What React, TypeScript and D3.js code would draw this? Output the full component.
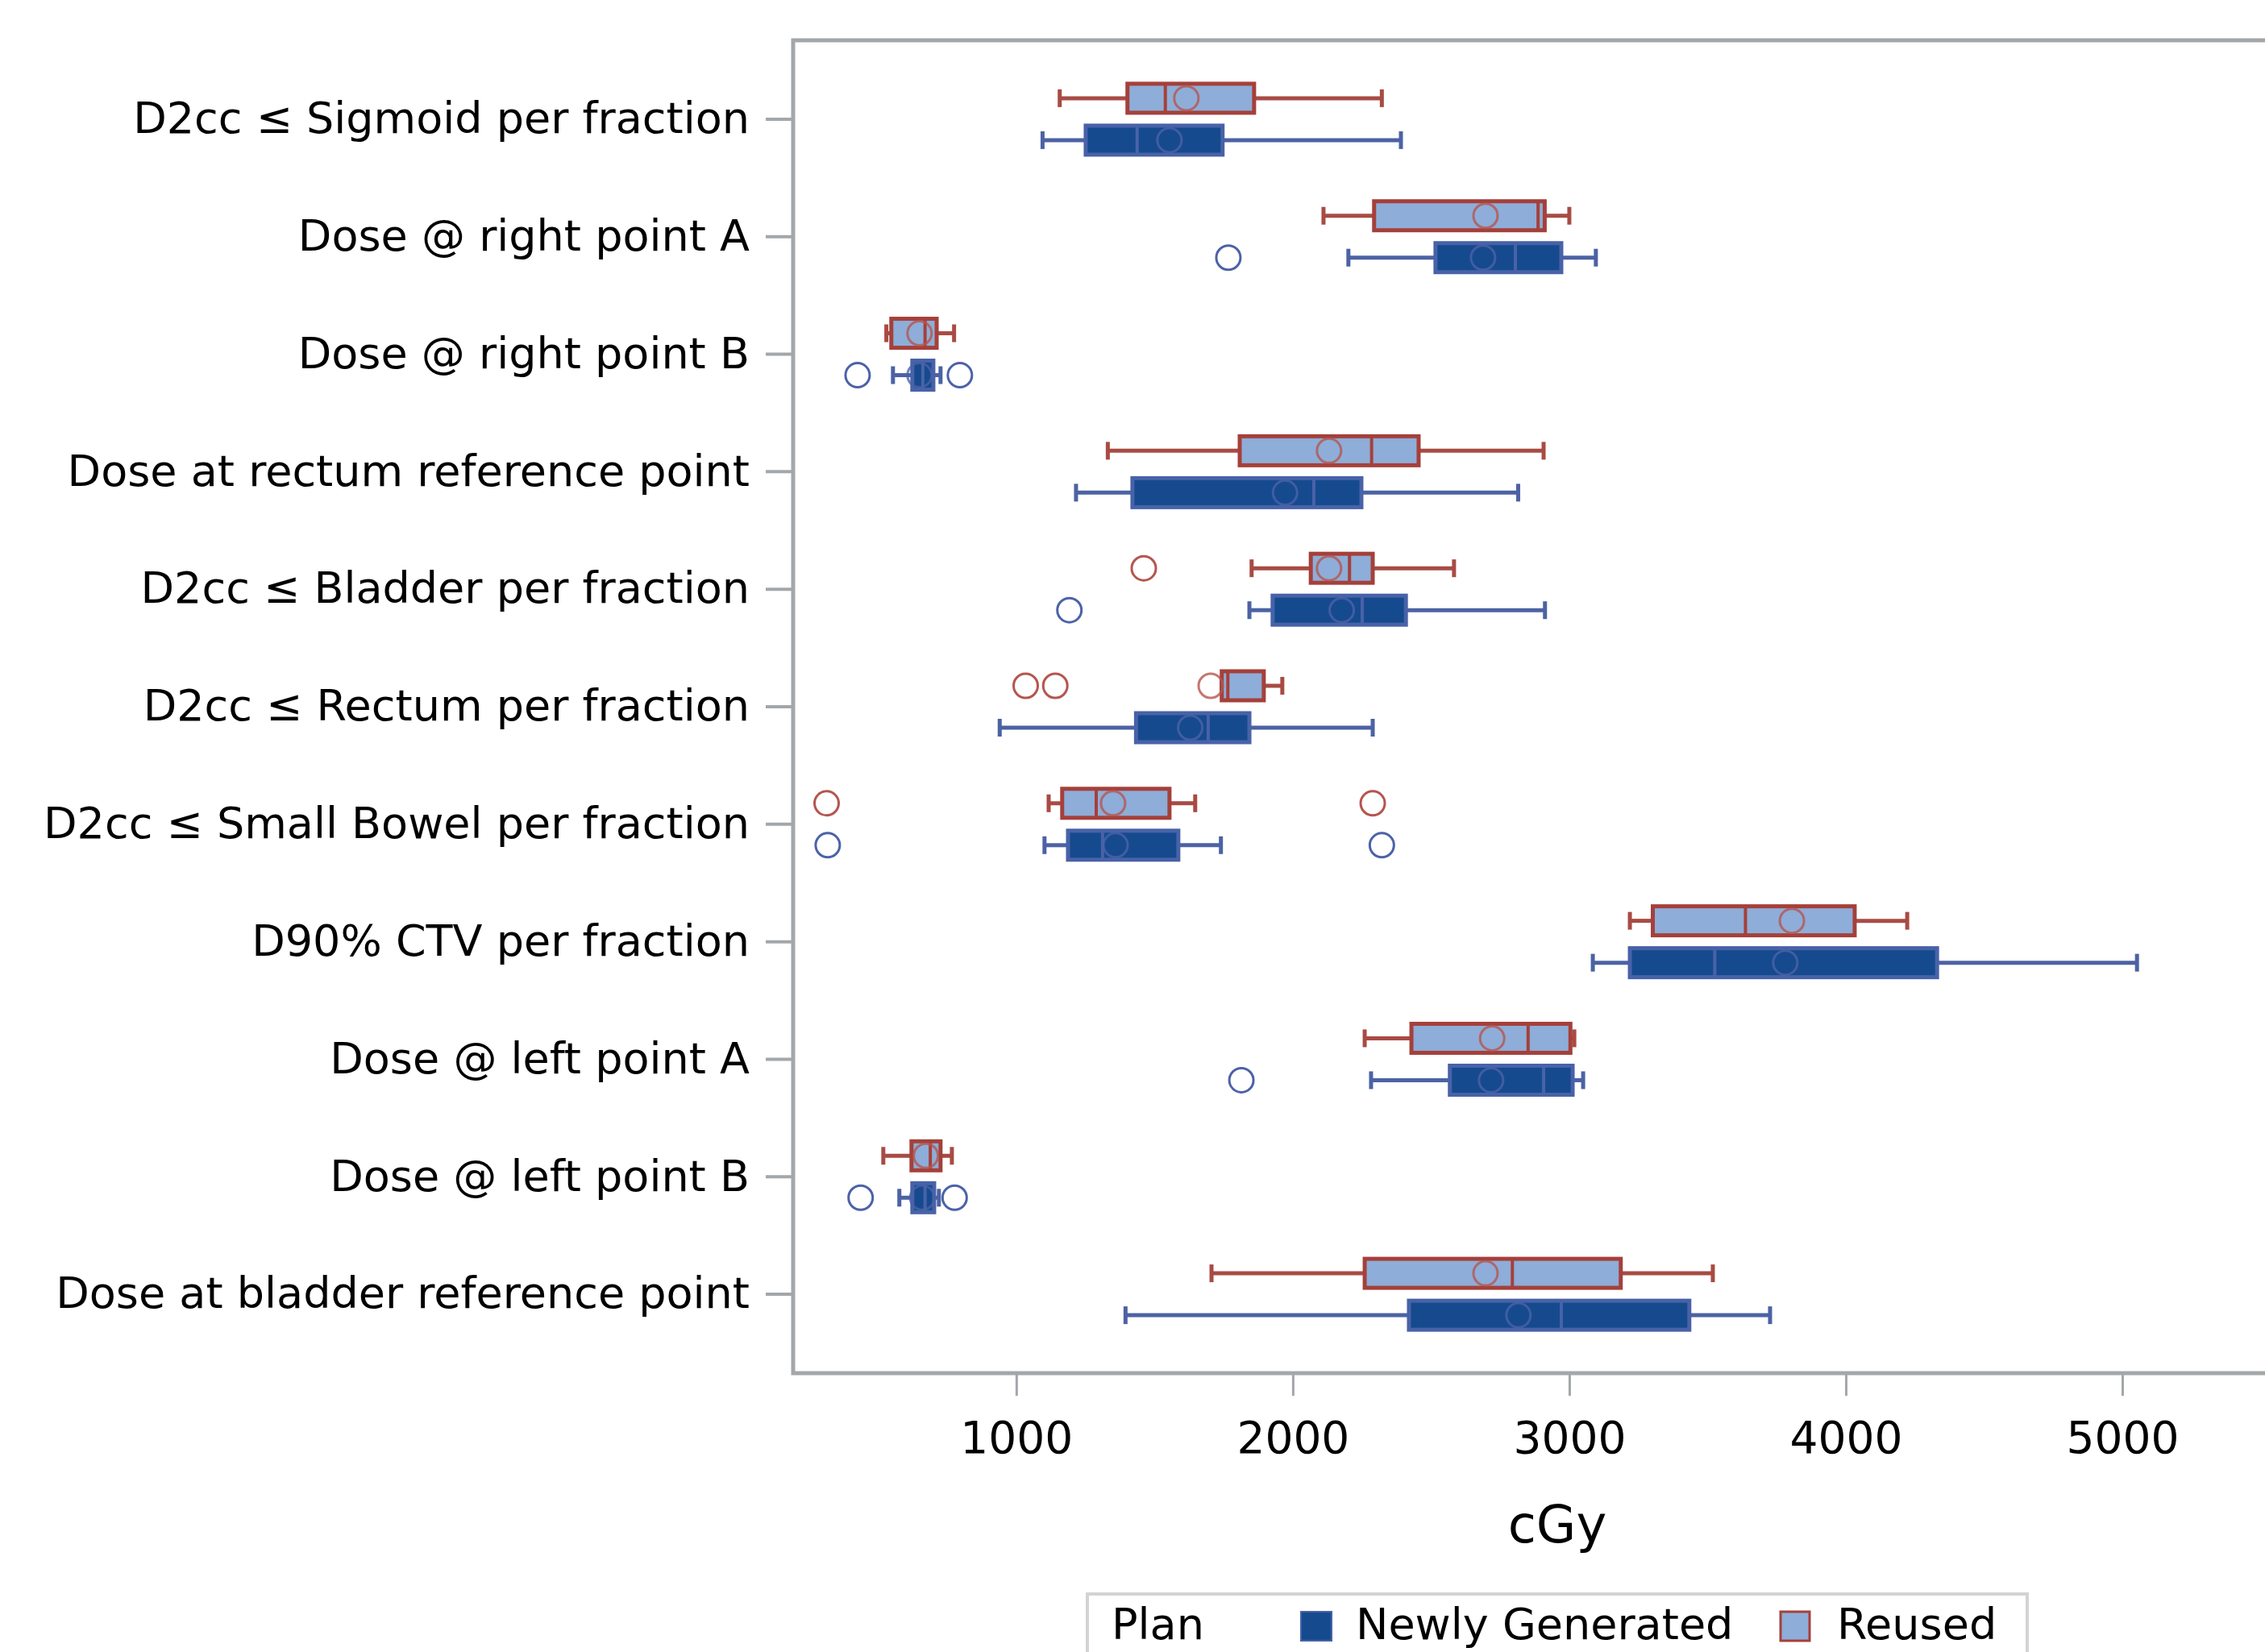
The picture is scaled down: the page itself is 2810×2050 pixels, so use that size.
import React, { useRef, useEffect } from "react";
import * as d3 from "d3";

const categories = [
  "D2cc ≤ Sigmoid per fraction",
  "Dose @ right point A",
  "Dose @ right point B",
  "Dose at rectum reference point",
  "D2cc ≤ Bladder per fraction",
  "D2cc ≤ Rectum per fraction",
  "D2cc ≤ Small Bowel per fraction",
  "D90% CTV per fraction",
  "Dose @ left point A",
  "Dose @ left point B",
  "Dose at bladder reference point",
];

const xTicks = [1000, 2000, 3000, 4000, 5000];

// Reused plans
const reusedMin = [1157, 2111, 530, 1331, 1851, 1743, 1117, 3219, 2260, 519, 1706];
const reusedQ1 = [1402, 2294, 548, 1808, 2065, 1743, 1166, 3302, 2429, 621, 2260];
const reusedMedian = [1539, 2887, 670, 2285, 2205, 1765, 1289, 3637, 2851, 689, 2794];
const reusedMean = [1615, 2697, 650, 2131, 2131, 1703, 1350, 3805, 2721, 673, 2697];
const reusedQ3 = [1860, 2911, 712, 2455, 2289, 1895, 1554, 4032, 3004, 726, 3186];
const reusedMax = [2322, 3000, 775, 2907, 2583, 1962, 1647, 4222, 3018, 767, 3519];
const reusedOutliers = [[], [], [], [], [1461], [1034, 1141], [314, 2289], [], [], [], []];

// Newly generated plans
const newMin = [1095, 2201, 554, 1216, 1843, 940, 1102, 3085, 2283, 577, 1395];
const newQ1 = [1251, 2516, 624, 1420, 1927, 1433, 1187, 3219, 2568, 624, 2420];
const newMedian = [1437, 2805, 662, 2076, 2251, 1694, 1312, 3526, 2907, 670, 2971];
const newMean = [1554, 2688, 650, 1972, 2177, 1629, 1359, 3781, 2717, 660, 2816];
const newQ3 = [1746, 2971, 700, 2248, 2409, 1843, 1586, 4330, 3012, 703, 3434];
const newMax = [2391, 3096, 726, 2815, 2912, 2289, 1740, 5053, 3050, 720, 3726];
const newOutliers = [[], [1767], [426, 796], [], [1192], [], [318, 2322], [], [1814], [437, 777], []];

const width = 2810;
const height = 2050;
const frame = { left: 984, top: 50, right: 2880, bottom: 1704 };
const font = "'DejaVu Sans', Verdana, sans-serif";

const series = [
  {
    name: "Reused",
    offset: -26,
    min: reusedMin, q1: reusedQ1, median: reusedMedian, mean: reusedMean,
    q3: reusedQ3, max: reusedMax, outliers: reusedOutliers,
    fill: "#8eadd8", stroke: "#a5403a", whisker: "#a84b44", marker: "#b5554f",
  },
  {
    name: "Newly Generated",
    offset: 26,
    min: newMin, q1: newQ1, median: newMedian, mean: newMean,
    q3: newQ3, max: newMax, outliers: newOutliers,
    fill: "#164a8e", stroke: "#4862a8", whisker: "#4c62a4", marker: "#4c62a8",
  },
];

const App = () => {
  const ref = useRef(null);

  useEffect(() => {
    const svg = d3.select(ref.current);
    svg.selectAll("*").remove();

    const x = d3.scaleLinear().domain([193, 5720]).range([frame.left, frame.right]);
    const y = d3
      .scaleBand()
      .domain(categories)
      .range([frame.top + 25, frame.bottom - 25]);
    const cy = (c) => y(c) + y.bandwidth() / 2;
    const boxH = 36;
    const capH = 22;

    // frame
    svg
      .append("rect")
      .attr("x", frame.left)
      .attr("y", frame.top)
      .attr("width", frame.right - frame.left)
      .attr("height", frame.bottom - frame.top)
      .attr("fill", "white")
      .attr("stroke", "#a3a7aa")
      .attr("stroke-width", 5);

    // y axis
    const yAxis = svg
      .append("g")
      .attr("transform", `translate(${frame.left},0)`)
      .call(d3.axisLeft(y).tickSize(34).tickPadding(20).tickSizeOuter(0));
    yAxis.select(".domain").remove();
    yAxis.selectAll(".tick line").attr("stroke", "#a3a7aa").attr("stroke-width", 4);
    yAxis
      .selectAll(".tick text")
      .attr("font-family", font)
      .attr("font-size", 54)
      .attr("fill", "#000");

    // x axis
    const xAxis = svg
      .append("g")
      .attr("transform", `translate(0,${frame.bottom})`)
      .call(d3.axisBottom(x).tickValues(xTicks).tickSize(28).tickFormat(d3.format("d")));
    xAxis.select(".domain").remove();
    xAxis.selectAll(".tick line").attr("stroke", "#a3a7aa").attr("stroke-width", 3);
    xAxis
      .selectAll(".tick text")
      .attr("y", 99)
      .attr("dy", 0)
      .attr("font-family", font)
      .attr("font-size", 55)
      .attr("fill", "#000");

    svg
      .append("text")
      .attr("x", (frame.left + frame.right) / 2)
      .attr("y", 1914)
      .attr("text-anchor", "middle")
      .attr("font-family", font)
      .attr("font-size", 64)
      .attr("fill", "#000")
      .text("cGy");

    // boxes
    series.forEach((s) => {
      const g = svg.append("g");
      categories.forEach((c, i) => {
        const yc = cy(c) + s.offset;
        // whiskers
        g.append("line")
          .attr("x1", x(s.min[i])).attr("x2", x(s.q1[i]))
          .attr("y1", yc).attr("y2", yc)
          .attr("stroke", s.whisker).attr("stroke-width", 5);
        g.append("line")
          .attr("x1", x(s.q3[i])).attr("x2", x(s.max[i]))
          .attr("y1", yc).attr("y2", yc)
          .attr("stroke", s.whisker).attr("stroke-width", 5);
        [s.min[i], s.max[i]].forEach((v) => {
          g.append("line")
            .attr("x1", x(v)).attr("x2", x(v))
            .attr("y1", yc - capH / 2).attr("y2", yc + capH / 2)
            .attr("stroke", s.whisker).attr("stroke-width", 5);
        });
        // box
        g.append("rect")
          .attr("x", x(s.q1[i]))
          .attr("y", yc - boxH / 2)
          .attr("width", Math.max(1, x(s.q3[i]) - x(s.q1[i])))
          .attr("height", boxH)
          .attr("fill", s.fill)
          .attr("stroke", s.stroke)
          .attr("stroke-width", 5);
        // median
        g.append("line")
          .attr("x1", x(s.median[i])).attr("x2", x(s.median[i]))
          .attr("y1", yc - boxH / 2).attr("y2", yc + boxH / 2)
          .attr("stroke", s.stroke).attr("stroke-width", 4);
        // mean
        g.append("circle")
          .attr("cx", x(s.mean[i]))
          .attr("cy", yc)
          .attr("r", 15)
          .attr("fill", "none")
          .attr("stroke", s.marker)
          .attr("stroke-opacity", 0.8)
          .attr("stroke-width", 3);
        // outliers
        s.outliers[i].forEach((v) => {
          g.append("circle")
            .attr("cx", x(v))
            .attr("cy", yc)
            .attr("r", 15)
            .attr("fill", "none")
            .attr("stroke", s.marker)
            .attr("stroke-width", 3);
        });
      });
    });

    // legend
    const lg = svg.append("g");
    lg.append("rect")
      .attr("x", 1349).attr("y", 1978)
      .attr("width", 1166).attr("height", 120)
      .attr("fill", "white")
      .attr("stroke", "#d3d3d3")
      .attr("stroke-width", 4);
    lg.append("text")
      .attr("x", 1379).attr("y", 2034)
      .attr("font-family", font).attr("font-size", 54).attr("fill", "#000")
      .text("Plan");
    lg.append("rect")
      .attr("x", 1614).attr("y", 2000).attr("width", 38).attr("height", 36)
      .attr("fill", series[1].fill).attr("stroke", series[1].stroke).attr("stroke-width", 2);
    lg.append("text")
      .attr("x", 1682).attr("y", 2034)
      .attr("font-family", font).attr("font-size", 54).attr("fill", "#000")
      .text("Newly Generated");
    lg.append("rect")
      .attr("x", 2209).attr("y", 2000).attr("width", 36).attr("height", 36)
      .attr("fill", series[0].fill).attr("stroke", series[0].stroke).attr("stroke-width", 3);
    lg.append("text")
      .attr("x", 2279).attr("y", 2034)
      .attr("font-family", font).attr("font-size", 54).attr("fill", "#000")
      .text("Reused");
  }, []);

  return (
    <svg
      ref={ref}
      width={width}
      height={height}
      style={{ position: "absolute", left: 0, top: 0, background: "white" }}
    />
  );
};

export default App;
